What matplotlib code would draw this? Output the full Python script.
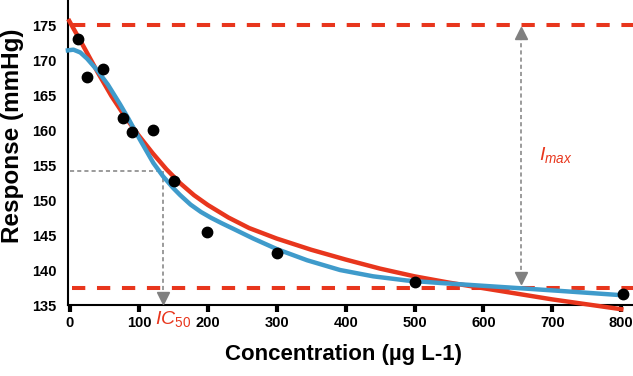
import matplotlib
matplotlib.use('Agg')
import matplotlib.pyplot as plt

# =========================
# data
# =========================
conc = [12, 25, 48, 77, 90, 120, 151, 199, 301, 500, 803]
resp = [173.0, 167.6, 168.7, 161.7, 159.8, 160.0, 152.7, 145.5, 142.5, 138.3, 136.6]

# red fitted curve
red_x = [-1, 20, 40, 60, 80, 100, 120, 140, 160, 180, 200, 230, 260, 300, 350,
         400, 450, 500, 550, 600, 650, 700, 750, 800]
red_y = [175.6, 171.9, 168.3, 164.9, 161.9, 159.2, 156.7, 154.4, 152.4, 150.7,
         149.3, 147.5, 146.0, 144.5, 142.9, 141.5, 140.2, 139.1, 138.2, 137.4,
         136.6, 135.8, 135.1, 134.4]

# blue fitted curve
blue_x = [-3, 5, 15, 25, 40, 55, 72.6, 85, 100, 121, 135, 150, 160, 175, 190, 205,
          220, 240, 266, 300, 344, 392, 440, 489, 537, 576, 653, 721, 801]
blue_y = [171.4, 171.5, 171.1, 170.2, 168.5, 166.5, 163.7, 161.6, 158.9, 155.3,
          153.4, 151.7, 150.7, 149.35, 148.3, 147.45, 146.7, 145.75, 144.5, 143.0,
          141.4, 140.0, 139.1, 138.5, 138.15, 137.9, 137.4, 136.95, 136.4]

top_level = 175.0
bottom_level = 137.4
ic50_x = 135
ic50_y = 154.2
imax_x = 655

x_ticks = [0, 100, 200, 300, 400, 500, 600, 700, 800]
y_ticks = [135, 140, 145, 150, 155, 160, 165, 170, 175]

RED = '#e8361d'
BLUE = '#3f9bcb'
GRAY = '#808080'

plt.rcParams['font.family'] = ['Liberation Sans', 'DejaVu Sans']
plt.rcParams['mathtext.fontset'] = 'custom'
plt.rcParams['mathtext.it'] = 'Liberation Sans:italic'
plt.rcParams['mathtext.rm'] = 'Liberation Sans'

fig = plt.figure(figsize=(6.33, 3.76), dpi=100)
ax = fig.add_axes([0.1074, 0.1888, 0.8926, 0.8112])
ax.set_xlim(-2.9, 817)
ax.set_ylim(135, 178.6)

# plateau lines
ax.plot([3, 817], [top_level, top_level], color=RED, lw=2.9, dashes=(3.3, 2.9), zorder=2)
ax.plot([3, 817], [bottom_level, bottom_level], color=RED, lw=2.9, dashes=(3.3, 2.9), zorder=2)

# IC50 guide
ax.plot([0, ic50_x], [ic50_y, ic50_y], color=GRAY, lw=1.1, dashes=(2.7, 2), zorder=1)
ax.plot([ic50_x, ic50_x], [ic50_y, 136.5], color=GRAY, lw=1.1, dashes=(2.7, 2), zorder=1)
ax.plot([ic50_x], [135.95], marker='v', color=GRAY, markersize=9, clip_on=False, zorder=3)

# Imax guide
ax.plot([imax_x, imax_x], [173.4, 139.4], color=GRAY, lw=1.1, dashes=(2.7, 2), zorder=1)
ax.plot([imax_x], [173.9], marker='^', color=GRAY, markersize=9, zorder=3)
ax.plot([imax_x], [138.8], marker='v', color=GRAY, markersize=9, zorder=3)

# curves and data
ax.plot(red_x, red_y, color=RED, lw=3.2, zorder=4, clip_on=False, solid_joinstyle='round')
ax.plot(blue_x, blue_y, color=BLUE, lw=3.2, zorder=5, clip_on=False, solid_joinstyle='round')
ax.scatter(conc, resp, s=56, color='black', zorder=6, clip_on=False)

ax.text(680, 156.4, r'$I_{max}$', color=RED, fontsize=14, ha='left', va='center')
ax.text(123, 132.3, r'$IC_{50}$', color=RED, fontsize=14, ha='left', va='baseline',
        clip_on=False)

for side in ['top', 'right']:
    ax.spines[side].set_visible(False)
for side in ['left', 'bottom']:
    ax.spines[side].set_linewidth(1.5)
    ax.spines[side].set_color('black')

ax.set_xticks(x_ticks)
ax.set_yticks(y_ticks)
ax.tick_params(axis='x', direction='out', length=5, width=3, pad=3)
ax.tick_params(axis='y', length=0, pad=8)
for lab in ax.get_xticklabels() + ax.get_yticklabels():
    lab.set_fontweight('bold')
    lab.set_fontsize(10.5)

fig.text(0.542, 0.056, 'Concentration (µg L-1)', ha='center', va='center',
         fontsize=16, fontweight='bold')
fig.text(0.020, 0.64, 'Response (mmHg)', ha='center', va='center', rotation=90,
         fontsize=17.5, fontweight='bold')

fig.savefig('out.png', dpi=100)
